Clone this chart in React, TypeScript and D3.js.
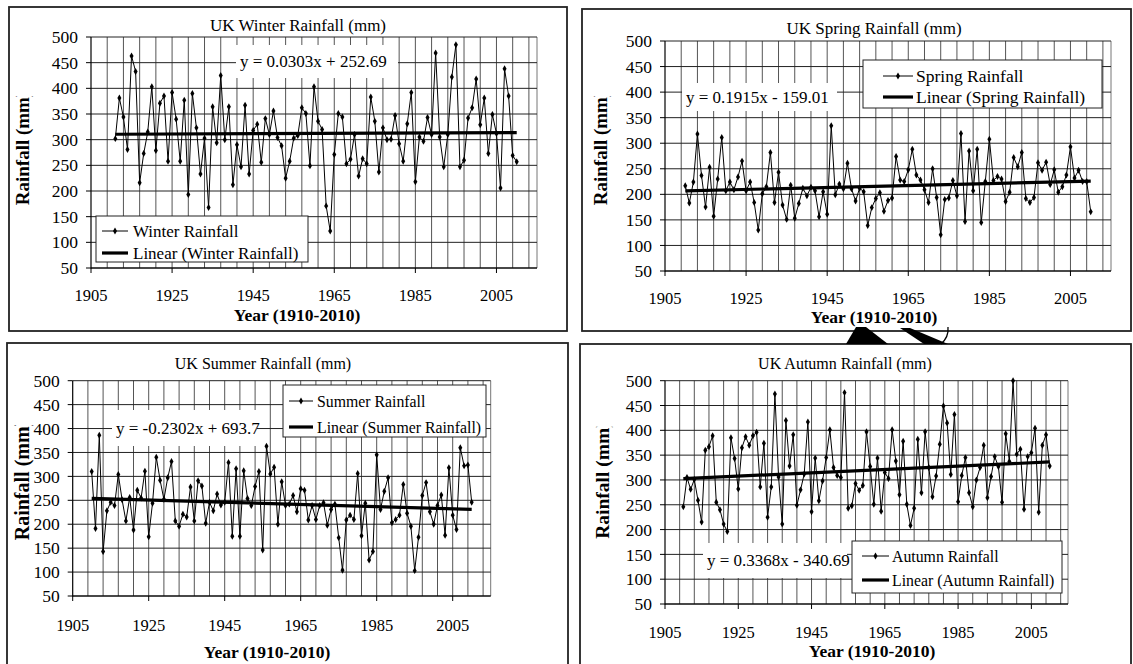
import React from "react";
import * as d3 from "d3";

// UK seasonal rainfall (mm)
const winterYears = d3.range(1911, 2011);
const seasonYears = d3.range(1910, 2011);

const winterRain = [
  302, 381, 344, 281, 463, 433, 216, 273, 315, 403,
  279, 371, 385, 258, 392, 340, 258, 377, 193, 390,
  323, 233, 303, 168, 364, 294, 425, 300, 364, 212,
  290, 247, 367, 233, 318, 330, 256, 341, 310, 356,
  304, 288, 225, 258, 303, 308, 362, 351, 249, 403,
  336, 320, 171, 122, 271, 351, 344, 253, 262, 310,
  229, 263, 253, 383, 336, 237, 323, 300, 301, 347,
  292, 258, 331, 392, 218, 305, 297, 343, 310, 469,
  305, 247, 310, 422, 485, 247, 260, 342, 362, 418,
  329, 381, 273, 349, 312, 206, 438, 385, 269, 257,
];
const springRain = [
  217, 183, 224, 318, 237, 175, 253, 157, 230, 311,
  207, 224, 209, 234, 265, 207, 224, 184, 130, 201,
  215, 282, 184, 243, 179, 151, 218, 153, 182, 212,
  197, 214, 207, 156, 205, 161, 334, 199, 220, 211,
  261, 211, 187, 212, 205, 139, 174, 192, 203, 167,
  188, 193, 274, 228, 225, 248, 288, 238, 228, 209,
  184, 250, 194, 121, 190, 193, 227, 197, 319, 147,
  285, 207, 288, 145, 225, 308, 227, 235, 230, 186,
  204, 272, 254, 282, 192, 184, 194, 262, 247, 263,
  219, 248, 204, 215, 238, 293, 232, 247, 225, 225, 166,
];
const summerRain = [
  310, 191, 386, 143, 228, 246, 239, 304, 251, 207,
  256, 188, 271, 255, 311, 174, 244, 340, 292, 252,
  297, 331, 207, 196, 221, 215, 278, 207, 291, 280,
  202, 246, 228, 263, 240, 246, 329, 175, 316, 175,
  312, 254, 239, 279, 310, 146, 363, 305, 319, 200,
  289, 239, 242, 260, 226, 274, 271, 209, 239, 210,
  239, 245, 198, 231, 242, 172, 104, 209, 219, 210,
  306, 176, 244, 125, 143, 345, 231, 269, 297, 203,
  210, 219, 283, 223, 196, 103, 173, 260, 287, 226,
  200, 239, 261, 177, 318, 219, 189, 360, 322, 324, 246,
];
const autumnRain = [
  246, 305, 281, 301, 259, 215, 360, 367, 389, 255,
  240, 211, 196, 385, 343, 282, 365, 387, 370, 389,
  396, 286, 374, 225, 286, 473, 306, 211, 420, 328,
  391, 249, 280, 312, 417, 236, 344, 258, 298, 345,
  401, 325, 309, 305, 476, 243, 248, 293, 279, 289,
  397, 327, 251, 344, 237, 315, 303, 401, 338, 270,
  378, 251, 208, 243, 382, 274, 397, 325, 266, 308,
  372, 449, 415, 311, 432, 256, 309, 345, 274, 246,
  300, 325, 370, 264, 307, 347, 327, 255, 393, 337,
  500, 352, 362, 241, 347, 355, 404, 235, 370, 391, 328,
];

const seasons = ["Winter", "Spring", "Summer", "Autumn"];
const seasonYearLists = [winterYears, seasonYears, seasonYears, seasonYears];
const seasonRain = [winterRain, springRain, summerRain, autumnRain];
const trendSlopes = [0.0303, 0.1915, -0.2302, 0.3368];
const trendIntercepts = [252.69, -159.01, 693.7, -340.69];
const equationLabels = [
  "y = 0.0303x + 252.69",
  "y = 0.1915x - 159.01",
  "y = -0.2302x + 693.7",
  "y = 0.3368x - 340.69",
];
const yTicks = d3.range(50, 501, 50);
const xTicks = [1905, 1925, 1945, 1965, 1985, 2005];
const xGrid = d3.range(1909, 2015, 4);
const xDomain = [1905, 2015];
const yDomain = [50, 500];

// panel placement on the page
const layouts = [
  {
    frame: [9, 7, 567, 331], plot: [91, 537, 37, 268], title: [298, 25], titleSize: 17,
    yLab: [22, 148], yLabSize: 19, xTitle: [297, 315], tickGap: 27, legSize: 17,
    eq: [236, 45, 162, 33], legend: [96, 216, 212, 46], legLine: [102, 128], legText: 133, legRows: [231, 253],
  },
  {
    frame: [582, 9, 1131, 331], plot: [665, 1111, 41, 271], title: [874, 28], titleSize: 17,
    yLab: [600, 148], yLabSize: 19, xTitle: [874, 317], tickGap: 27, legSize: 17.5,
    eq: [682, 83, 155, 28], legend: [863, 60, 239, 48], legLine: [883, 913], legText: 916, legRows: [76, 97],
  },
  {
    frame: [7, 343, 568, 680], plot: [72.7, 490.7, 380.7, 596], title: [263, 363], titleSize: 16,
    yLab: [22, 480], yLabSize: 20, xTitle: [267, 652], tickGap: 29, legSize: 15.8,
    eq: [112, 410, 145, 36], legend: [283, 385, 203, 52], legLine: [289, 313], legText: 317, legRows: [401, 427],
  },
  {
    frame: [580, 344, 1131, 680], plot: [665, 1068, 380.7, 604], title: [845, 363], titleSize: 16,
    yLab: [602, 480], yLabSize: 19.5, xTitle: [872, 651], tickGap: 28, legSize: 15.8,
    eq: [703, 543, 144, 35], legend: [852, 541, 210, 52], legLine: [862, 889], legText: 892, legRows: [556, 580],
  },
];

const font = "'Liberation Serif', 'Times New Roman', serif";
const marker = d3.symbol(d3.symbolDiamond, 14)();

function Panel({ idx }: { idx: number }) {
  const lay = layouts[idx];
  const [l, r, t, b] = lay.plot;
  const x = d3.scaleLinear().domain(xDomain).range([l, r]);
  const y = d3.scaleLinear().domain(yDomain).range([b, t]);
  const years = seasonYearLists[idx];
  const pts: [number, number][] = years.map((yr, i) => [yr, seasonRain[idx][i]]);
  const line = d3.line<[number, number]>().x((d) => x(d[0])).y((d) => y(d[1]));
  const y0 = years[0];
  const y1 = years[years.length - 1];
  const trend: [number, number][] = [y0, y1].map((yr) => [yr, trendSlopes[idx] * yr + trendIntercepts[idx]]);
  const name = seasons[idx];
  const [fx0, fy0, fx1, fy1] = lay.frame;
  const [ex, ey, ew, eh] = lay.eq;
  const [lx, ly, lw, lh] = lay.legend;
  const clipId = `ylab-clip-${idx}`;
  const fs = lay.yLabSize;
  // the closing bracket of the y title is cut off in the original, only a sliver shows
  const clipTop = lay.yLab[1] - 2.886 * fs + 0.15 * fs;

  return (
    <g fontFamily={font} fill="#000">
      <rect x={fx0} y={fy0} width={fx1 - fx0} height={fy1 - fy0} fill="#fff" stroke="#222" strokeWidth={1.8} />
      <text x={lay.title[0]} y={lay.title[1]} dy="0.35em" textAnchor="middle" fontSize={lay.titleSize}>
        {`UK ${name} Rainfall (mm)`}
      </text>

      {/* grid */}
      {xGrid.map((g) => (
        <line key={"v" + g} x1={x(g)} x2={x(g)} y1={t} y2={b} stroke="#555" strokeWidth={1} />
      ))}
      <line x1={r} x2={r} y1={t} y2={b} stroke="#777" strokeWidth={1} />
      {yTicks.map((v) => (
        <line key={"h" + v} x1={l} x2={r} y1={y(v)} y2={y(v)} stroke="#222" strokeWidth={1} />
      ))}

      {/* axes */}
      <line x1={l} x2={l} y1={t} y2={b + 0.5} stroke="#000" strokeWidth={1.2} />
      <line x1={l} x2={r} y1={b} y2={b} stroke="#000" strokeWidth={1.2} />
      {yTicks.map((v) => (
        <g key={"yt" + v}>
          <line x1={l - 5} x2={l} y1={y(v)} y2={y(v)} stroke="#000" />
          <text x={l - 13} y={y(v)} dy="0.35em" textAnchor="end" fontSize={17.5}>{v}</text>
        </g>
      ))}
      {xTicks.map((v) => (
        <g key={"xt" + v}>
          <line x1={x(v)} x2={x(v)} y1={b} y2={b + 5} stroke="#000" />
          <text x={x(v)} y={b + lay.tickGap} dy="0.35em" textAnchor="middle" fontSize={16.5}>{v}</text>
        </g>
      ))}
      <text x={lay.xTitle[0]} y={lay.xTitle[1]} dy="0.35em" textAnchor="middle" fontSize={17.5} fontWeight="bold">
        Year (1910-2010)
      </text>
      <clipPath id={clipId}>
        <rect x={lay.yLab[0] - 16} y={clipTop} width={32} height={140} />
      </clipPath>
      <g clipPath={`url(#${clipId})`}>
        <text
          transform={`translate(${lay.yLab[0]},${lay.yLab[1]}) rotate(-90)`}
          dy="0.35em"
          textAnchor="middle"
          fontSize={fs}
          fontWeight="bold"
        >
          Rainfall (mm)
        </text>
      </g>

      {/* series + trend */}
      <path d={line(pts) || ""} fill="none" stroke="#000" strokeWidth={1} />
      {pts.map((d, i) => (
        <path key={"m" + i} d={marker || ""} transform={`translate(${x(d[0])},${y(d[1])})`} fill="#000" />
      ))}
      <path d={line(trend) || ""} fill="none" stroke="#000" strokeWidth={3.2} />

      {/* equation */}
      <rect x={ex} y={ey} width={ew} height={eh} fill="#fff" />
      <text x={ex + 4} y={ey + eh / 2} dy="0.35em" fontSize={17}>{equationLabels[idx]}</text>

      {/* legend */}
      <rect x={lx} y={ly} width={lw} height={lh} fill="#fff" stroke="#222" strokeWidth={1} />
      <line x1={lay.legLine[0]} x2={lay.legLine[1]} y1={lay.legRows[0]} y2={lay.legRows[0]} stroke="#000" strokeWidth={1} />
      <path d={marker || ""} transform={`translate(${(lay.legLine[0] + lay.legLine[1]) / 2},${lay.legRows[0]})`} />
      <text x={lay.legText} y={lay.legRows[0]} dy="0.35em" fontSize={lay.legSize}>{`${name} Rainfall`}</text>
      <line x1={lay.legLine[0]} x2={lay.legLine[1]} y1={lay.legRows[1]} y2={lay.legRows[1]} stroke="#000" strokeWidth={3.2} />
      <text x={lay.legText} y={lay.legRows[1]} dy="0.35em" fontSize={lay.legSize}>{`Linear (${name} Rainfall)`}</text>
    </g>
  );
}

export default function App() {
  return (
    <svg
      width={1133}
      height={664}
      style={{ position: "absolute", left: 0, top: 0, background: "#fff" }}
    >
      <rect width={1133} height={664} fill="#fff" />
      {seasons.map((s, i) => (
        <Panel key={s} idx={i} />
      ))}
      {/* black pen marks in the gap between the right-hand frames */}
      <path d="M846,344 L856,327 L866,327 L888,344 Z" fill="#000" />
      <path d="M900,328 L910,328 L948,344 L924,344 Z" fill="#000" />
      <path d="M941,344 Q949,337 948,327" fill="none" stroke="#000" strokeWidth={1.3} />
    </svg>
  );
}
